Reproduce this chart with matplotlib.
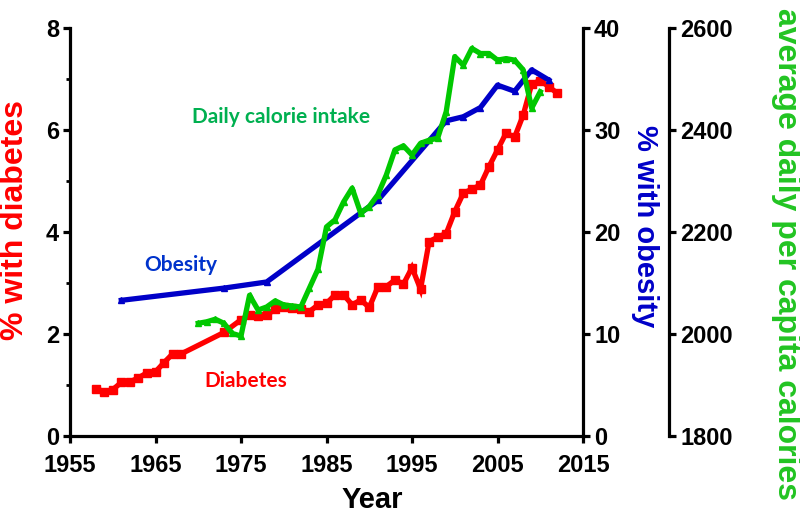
import matplotlib
matplotlib.use("Agg")
import matplotlib.pyplot as plt

# diabetes (% of population)
diab_years = [1958, 1959, 1960, 1961, 1962, 1963, 1964, 1965, 1966, 1967, 1968,
              1973, 1975, 1976, 1977, 1978, 1979, 1980, 1981, 1982, 1983, 1984,
              1985, 1986, 1987, 1988, 1989, 1990, 1991, 1992, 1993, 1994, 1995,
              1996, 1997, 1998, 1999, 2000, 2001, 2002, 2003, 2004, 2005, 2006,
              2007, 2008, 2009, 2010, 2011, 2012]
diab_pct = [0.93, 0.87, 0.91, 1.05, 1.06, 1.14, 1.24, 1.26, 1.44, 1.61, 1.61,
            2.03, 2.28, 2.37, 2.36, 2.37, 2.49, 2.52, 2.51, 2.49, 2.44, 2.57,
            2.60, 2.77, 2.77, 2.57, 2.67, 2.52, 2.92, 2.93, 3.06, 2.98, 3.30,
            2.88, 3.81, 3.90, 3.97, 4.40, 4.76, 4.84, 4.92, 5.28, 5.61, 5.94,
            5.86, 6.29, 6.90, 6.97, 6.85, 6.72]

# obesity (% of population)
ob_years = [1961, 1973, 1978, 1991, 1999, 2001, 2003, 2005, 2007, 2009, 2011]
ob_pct = [13.3, 14.5, 15.1, 23.1, 30.9, 31.3, 32.2, 34.4, 33.8, 35.9, 34.9]

# average daily per capita calories
cal_years = list(range(1970, 2011))
cal_kcal = [2021, 2024, 2029, 2021, 2001, 1996, 2076, 2047, 2053, 2065,
            2057, 2055, 2053, 2090, 2127, 2210, 2224, 2259, 2286, 2237,
            2250, 2273, 2312, 2361, 2369, 2351, 2374, 2380, 2384, 2436,
            2544, 2527, 2560, 2550, 2550, 2537, 2540, 2537, 2518, 2443,
            2475]

RED = "#ff0000"
BLUE = "#0000c8"
GREEN = "#00c800"

plt.rcParams["font.family"] = ["Liberation Sans", "DejaVu Sans"]
plt.rcParams["font.weight"] = "bold"

fig = plt.figure(figsize=(8, 5.17), dpi=100)
ax1 = fig.add_axes([70 / 800, 1 - 436 / 517, 513 / 800, 408 / 517])
ax2 = ax1.twinx()
ax3 = ax1.twinx()

ax1.plot(diab_years, diab_pct, color=RED, lw=3.8, marker="s", ms=6,
         solid_joinstyle="miter")
ax2.plot(ob_years, ob_pct, color=BLUE, lw=3.8, marker="^", ms=4)
ax3.plot(cal_years, cal_kcal, color=GREEN, lw=3.8, marker="^", ms=4)

ax1.set_xlim(1955, 2015)
ax1.set_ylim(0, 8)
ax2.set_ylim(0, 40)
ax3.set_ylim(1800, 2600)

ax1.set_xticks([1955, 1965, 1975, 1985, 1995, 2005, 2015])
ax1.set_yticks([0, 2, 4, 6, 8])
ax1.set_yticks([1, 3, 5, 7], minor=True)
ax2.set_yticks([0, 10, 20, 30, 40])
ax3.set_yticks([1800, 2000, 2200, 2400, 2600])

for ax in (ax1, ax2, ax3):
    for s in ax.spines.values():
        s.set_linewidth(2.3)
    ax.spines["top"].set_visible(False)
    ax.tick_params(which="major", direction="out", length=5, width=2.3,
                   labelsize=17, pad=3)
    ax.tick_params(which="minor", direction="out", length=3, width=2)

ax1.spines["right"].set_visible(False)
ax1.tick_params(axis="x", pad=8)
for ax in (ax2, ax3):
    ax.spines["left"].set_visible(False)
    ax.spines["bottom"].set_visible(False)
ax3.spines["right"].set_position(("axes", 1 + 86 / 513))

ax1.set_xlabel("Year", fontsize=21, fontweight="bold", va="center")
ax1.xaxis.set_label_coords(0.589, -0.157)
ax1.set_ylabel("% with diabetes", fontsize=23, fontweight="bold", color=RED,
               va="center")
ax1.yaxis.set_label_coords(-0.107, 0.53)
ax2.set_ylabel("% with obesity", fontsize=21, fontweight="bold", color=BLUE,
               rotation=270, va="center")
ax2.yaxis.set_label_coords(1.12, 0.515)
ax3.set_ylabel("average daily per capita calories", fontsize=23,
               fontweight="bold", color="#22c422", rotation=270, va="center")
ax3.yaxis.set_label_coords(1.395, 0.445)

ax1.text(1979.7, 6.25, "Daily calorie intake", color="#00b050", fontsize=15,
         fontweight="bold", family="Lato", ha="center", va="center")
ax1.text(1967.9, 3.36, "Obesity", color="#0033cc", fontsize=15,
         fontweight="bold", family="Lato", ha="center", va="center")
ax1.text(1975.5, 1.08, "Diabetes", color=RED, fontsize=15,
         fontweight="bold", family="Lato", ha="center", va="center")

fig.savefig("out.png", dpi=100)
